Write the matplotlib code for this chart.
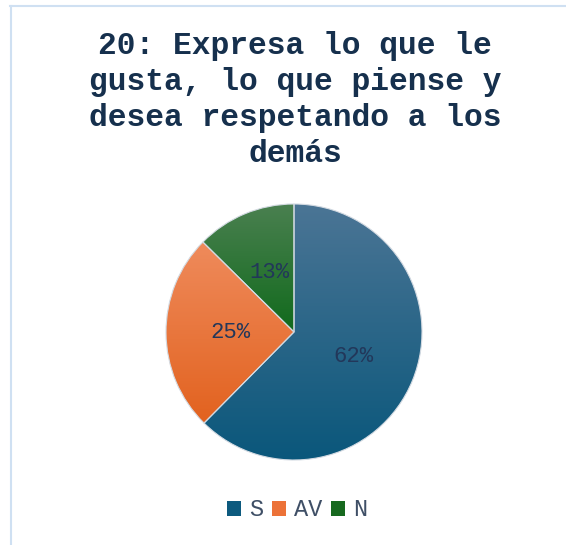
import matplotlib.pyplot as plt
import numpy as np
from matplotlib.colors import to_rgb
from matplotlib.lines import Line2D
from matplotlib.patches import Patch

W, H = 566, 545

TITLE = "20: Expresa lo que le\ngusta, lo que piense y\ndesea respetando a los\ndemás"
categories = ["S", "AV", "N"]
shares = [62.4, 25.0, 12.6]
top_colors = ["#4b7595", "#ef8b5c", "#4a8050"]
bottom_colors = ["#0a577b", "#e2621f", "#116a1c"]
legend_colors = ["#0d5a7e", "#ec7238", "#17691f"]

MONO = "Liberation Mono"
TITLE_COLOR = "#16304d"


def gradient(top, bottom, n=256):
    t = np.linspace(0, 1, n)[:, None]
    c0 = np.array(to_rgb(top))
    c1 = np.array(to_rgb(bottom))
    return (c0 * (1 - t) + c1 * t)[:, None, :]


fig = plt.figure(figsize=(W / 100, H / 100), dpi=100)

# chart area border (left + top only visible)
fig.add_artist(Line2D([11 / W, 11 / W], [0, 1 - 6 / H], color="#cfe0f2", lw=1.5,
                      transform=fig.transFigure))
fig.add_artist(Line2D([10 / W, 1], [1 - 6 / H, 1 - 6 / H], color="#cfe0f2", lw=1.5,
                      transform=fig.transFigure))

fig.text(295 / W, 1 - 100 / H, TITLE, ha="center", va="center", multialignment="center",
         fontsize=22.5, fontweight="bold", family=MONO, color=TITLE_COLOR, linespacing=1.27)

cx, cy, r = 294, H - 332, 128
ax = fig.add_axes([(cx - r) / W, (cy - r) / H, 2 * r / W, 2 * r / H])

wedges, _, autotexts = ax.pie(
    shares,
    startangle=90,
    counterclock=False,
    autopct="%.0f%%",
    pctdistance=0.5,
    wedgeprops={"edgecolor": "#d3dae2", "linewidth": 0.8},
    textprops={"fontsize": 16, "family": MONO, "color": "#22375a"},
)

for w, top, bot in zip(wedges, top_colors, bottom_colors):
    ext = w.get_path().get_extents()
    img = ax.imshow(gradient(top, bot), extent=(ext.x0, ext.x1, ext.y0, ext.y1),
                    origin="upper", aspect="auto", zorder=w.get_zorder() - 0.1,
                    interpolation="bilinear")
    img.set_clip_path(w)
    w.set_facecolor("none")

for t in autotexts:
    t.set_zorder(5)

ax.set_xlim(-1, 1)
ax.set_ylim(-1, 1)
ax.set_aspect("equal")
ax.axis("off")

handles = [Patch(facecolor=c, edgecolor="none") for c in legend_colors]
fig.legend(handles, categories, loc="center", bbox_to_anchor=(297 / W, 1 - 510 / H),
           ncol=3, frameon=False, handlelength=0.6, handleheight=0.6, handletextpad=0.35,
           columnspacing=0.35, prop={"family": MONO, "size": 17}, labelcolor="#3f4f66")

fig.savefig("out.png", dpi=100, facecolor="white")
